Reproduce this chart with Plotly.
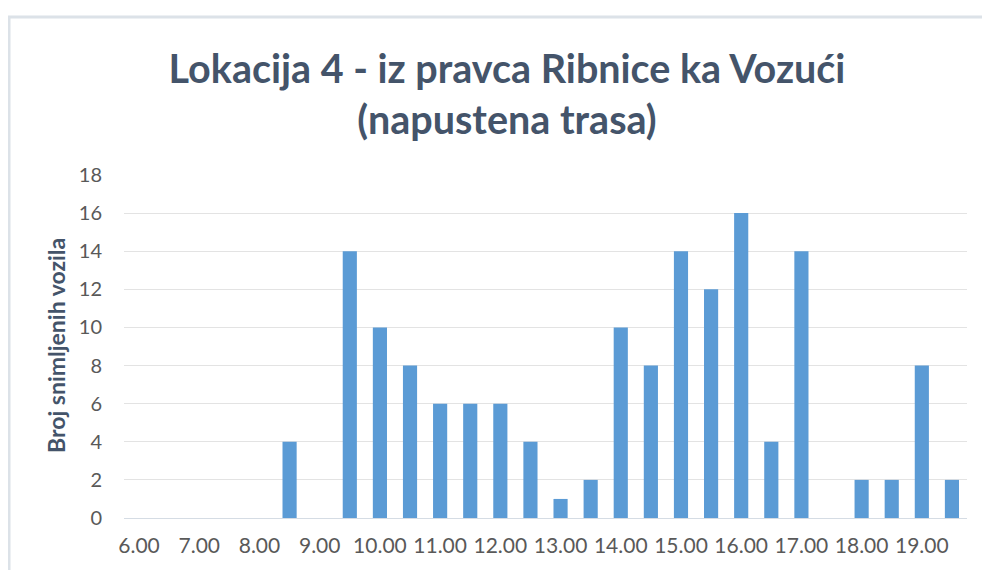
import plotly.graph_objects as go

categories = ["6.00", "6.30", "7.00", "7.30", "8.00", "8.30", "9.00", "9.30",
              "10.00", "10.30", "11.00", "11.30", "12.00", "12.30", "13.00", "13.30",
              "14.00", "14.30", "15.00", "15.30", "16.00", "16.30", "17.00", "17.30",
              "18.00", "18.30", "19.00", "19.30"]
values = [0, 0, 0, 0, 0, 4, 0, 14,
          10, 8, 6, 6, 6, 4, 1, 2,
          10, 8, 14, 12, 16, 4, 14, 0,
          2, 2, 8, 2]
tick_labels = categories[::2]
y_ticks = list(range(0, 19, 2))

title_text = "Lokacija 4 - iz pravca Ribnice ka Vozući<br>(napustena trasa)"
y_title = "Broj snimljenih vozila"

# page is offset by the 8px body margin; figure coords = page coords - 8
OFF = 8
W, H = 990, 570
L, T = 124 - OFF, 175 - OFF
R = W - (967 - OFF)
B = H - (518 - OFF)
pw, ph = W - L - R, H - T - B


def px2paper_x(px):
    return (px - OFF - L) / pw


def py2paper_y(py):
    return (H - B - (py - OFF)) / ph


fig = go.Figure()
fig.add_trace(go.Bar(
    x=categories, y=values,
    marker=dict(color="#5B9BD5", line=dict(width=0)),
    showlegend=False,
))

fig.update_layout(
    width=W, height=H,
    margin=dict(l=L, r=R, t=T, b=B),
    paper_bgcolor="white", plot_bgcolor="white",
    bargap=0.53,
    font=dict(family="Lato, Open Sans, sans-serif", color="#595959"),
    title=dict(
        text=title_text,
        x=(507 - OFF) / W, xanchor="center", xref="container",
        y=1 - (83 - OFF) / H, yanchor="middle", yref="container",
        font=dict(family="Lato, sans-serif", size=39.5, color="#44546A", weight="bold"),
    ),
    xaxis=dict(
        type="category",
        categoryorder="array", categoryarray=categories,
        tickmode="array", tickvals=tick_labels, ticktext=tick_labels,
        showgrid=False, showline=True, linecolor="#D5DCE4", linewidth=1,
        ticks="", tickfont=dict(size=21, color="#595959"),
        ticklabelstandoff=9,
    ),
    yaxis=dict(
        range=[0, 18], tickmode="array", tickvals=y_ticks,
        showgrid=True, gridcolor="#E3E3E3", gridwidth=1,
        zeroline=False, showline=False, ticks="",
        tickfont=dict(size=20, color="#595959"),
        ticklabelstandoff=21,
    ),
    annotations=[dict(
        text=y_title, textangle=-90,
        xref="paper", yref="paper",
        x=px2paper_x(56), y=py2paper_y(346),
        xanchor="center", yanchor="middle", showarrow=False,
        font=dict(family="Lato, sans-serif", size=23, color="#44546A", weight="bold"),
    )],
    shapes=[dict(
        type="rect", xref="paper", yref="paper",
        x0=px2paper_x(9), x1=px2paper_x(1010),
        y0=py2paper_y(600), y1=py2paper_y(17),
        line=dict(color="#DCE2E8", width=3), fillcolor="rgba(0,0,0,0)",
        layer="below",
    )],
)

fig.write_html("out.html")
